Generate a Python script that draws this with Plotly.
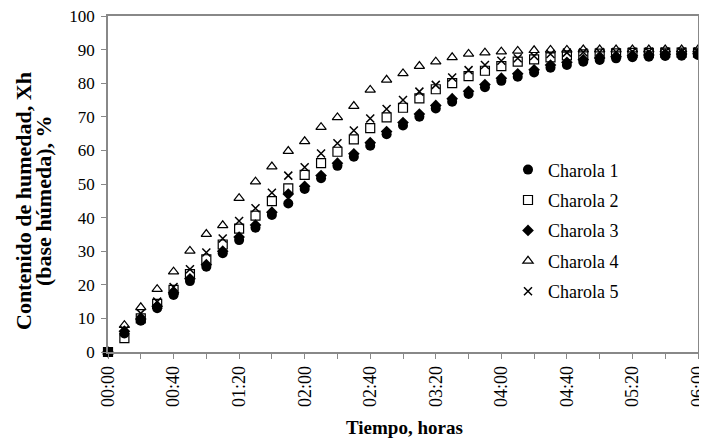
import plotly.graph_objects as go

minutes = list(range(0, 370, 10))
tick_vals = [0, 40, 80, 120, 160, 200, 240, 280, 320, 360]
tick_text = ["00:00", "00:40", "01:20", "02:00", "02:40", "03:20", "04:00", "04:40", "05:20", "06:00"]
y_ticks = [0, 10, 20, 30, 40, 50, 60, 70, 80, 90, 100]

charola1 = [0, 5.5, 9.3, 13.0, 17.0, 21.1, 25.4, 29.4, 33.3, 37.0, 40.8, 44.2, 48.5, 51.7, 55.4, 58.1, 61.4,
            64.8, 67.4, 70.0, 72.5, 74.5, 76.8, 78.8, 80.7, 81.9, 83.2, 84.6, 85.4, 86.4, 86.9, 87.4, 87.7,
            87.9, 88.1, 88.2, 88.4]
charola2 = [0, 4.1, 10.0, 14.3, 18.5, 23.2, 27.6, 32.0, 36.7, 40.6, 44.9, 48.7, 52.7, 56.2, 59.6, 63.3, 66.6,
            69.8, 72.7, 75.5, 78.2, 80.0, 82.1, 83.7, 85.1, 86.4, 87.1, 87.7, 88.3, 88.6, 88.8, 88.9, 89.0,
            89.0, 89.1, 89.1, 89.1]
charola3 = [0, 6.2, 9.8, 13.6, 17.6, 21.8, 26.0, 30.0, 34.2, 37.8, 41.6, 47.0, 49.3, 52.5, 56.2, 59.0, 62.3,
            65.6, 68.3, 70.8, 73.4, 75.4, 77.6, 79.6, 81.5, 82.8, 84.0, 85.4, 86.2, 87.0, 87.5, 87.9, 88.2,
            88.4, 88.6, 88.7, 88.8]
charola4 = [0, 8.0, 13.3, 18.7, 23.9, 30.1, 35.1, 37.7, 45.8, 50.7, 55.2, 59.8, 62.7, 66.9, 69.8, 73.2, 78.0,
            81.0, 82.9, 85.1, 86.4, 87.7, 88.7, 89.1, 89.4, 89.6, 89.8, 89.9, 89.9, 90.0, 90.0, 90.0, 90.0,
            90.0, 90.0, 90.0, 90.0]
charola5 = [0, 6.5, 11.5, 15.0, 19.3, 24.6, 29.6, 33.8, 39.0, 42.8, 47.4, 52.5, 55.0, 59.1, 62.1, 65.9, 69.5,
            72.3, 75.0, 77.5, 79.5, 81.7, 83.9, 85.4, 86.7, 87.4, 88.1, 88.7, 89.1, 89.2, 89.3, 89.3, 89.4,
            89.4, 89.4, 89.4, 89.4]

x_title = "Tiempo, horas"
y_title_1 = "Contenido de humedad, Xh"
y_title_2 = "(base húmeda), %"

series = [
    ("Charola 1", charola1, dict(symbol="circle", size=10, color="black")),
    ("Charola 2", charola2, dict(symbol="square-open", size=9, color="black", line=dict(width=1.2, color="black"))),
    ("Charola 3", charola3, dict(symbol="diamond", size=9, color="black")),
    ("Charola 4", charola4, dict(symbol="triangle-up-open", size=9, color="black", line=dict(width=1.2, color="black"))),
    ("Charola 5", charola5, dict(symbol="x-thin-open", size=8, color="black", line=dict(width=1.5, color="black"))),
]

fig = go.Figure()
for name, vals, mk in series:
    fig.add_trace(go.Scatter(x=minutes, y=vals, mode="markers", name=name, marker=mk,
                             legendgroup=name, cliponaxis=False))

font_family = "Liberation Serif, Times New Roman, serif"
# page body has an 8px margin: figure is 699x431, plot area 100..690 x 8..344 in figure coords
W, H = 699, 431
L, R, T, B = 100, 9, 8, 87
PW, PH = W - L - R, H - T - B


def px(fx):
    return (fx - L) / PW


def py(fy):
    return 1 - (fy - T) / PH


fig.update_layout(
    width=W, height=H,
    margin=dict(l=L, r=R, t=T, b=B),
    paper_bgcolor="white", plot_bgcolor="white",
    font=dict(family=font_family, size=17, color="black"),
    showlegend=True,
    legend=dict(x=px(500), y=py(143.4), xanchor="left", yanchor="top", bgcolor="rgba(0,0,0,0)",
                font=dict(family=font_family, size=18, color="black"),
                tracegroupgap=4, itemwidth=30),
    xaxis=dict(range=[0, 360], tickvals=tick_vals, ticktext=tick_text, tickangle=-90,
               ticks="outside", ticklen=5, tickcolor="#888", showgrid=False, zeroline=False,
               showline=True, linecolor="#888", linewidth=1.5, mirror=True, automargin=False,
               ticklabeloverflow="allow",
               minor=dict(tickvals=list(range(0, 361, 20)), ticks="outside", ticklen=5, tickcolor="#888"),
               tickfont=dict(family=font_family, size=18)),
    yaxis=dict(range=[0, 100], tickvals=y_ticks, ticks="outside", ticklen=5, tickcolor="#888",
               showgrid=False, zeroline=False, showline=True, linecolor="#888", linewidth=1.5, mirror=True,
               automargin=False, ticklabeloverflow="allow", ticklabelstandoff=3,
               tickfont=dict(family=font_family, size=17)),
    annotations=[
        dict(text="<b>" + x_title + "</b>", xref="paper", yref="paper", x=px(396), y=py(419),
             xanchor="center", yanchor="middle", showarrow=False,
             font=dict(family=font_family, size=19, color="black")),
        dict(text="<b>" + y_title_1 + "</b>", xref="paper", yref="paper", x=px(15), y=py(193),
             xanchor="center", yanchor="middle", showarrow=False, textangle=-90,
             font=dict(family=font_family, size=22, color="black")),
        dict(text="<b>" + y_title_2 + "</b>", xref="paper", yref="paper", x=px(35), y=py(193),
             xanchor="center", yanchor="middle", showarrow=False, textangle=-90,
             font=dict(family=font_family, size=22, color="black")),
    ],
)

fig.write_html("out.html")
